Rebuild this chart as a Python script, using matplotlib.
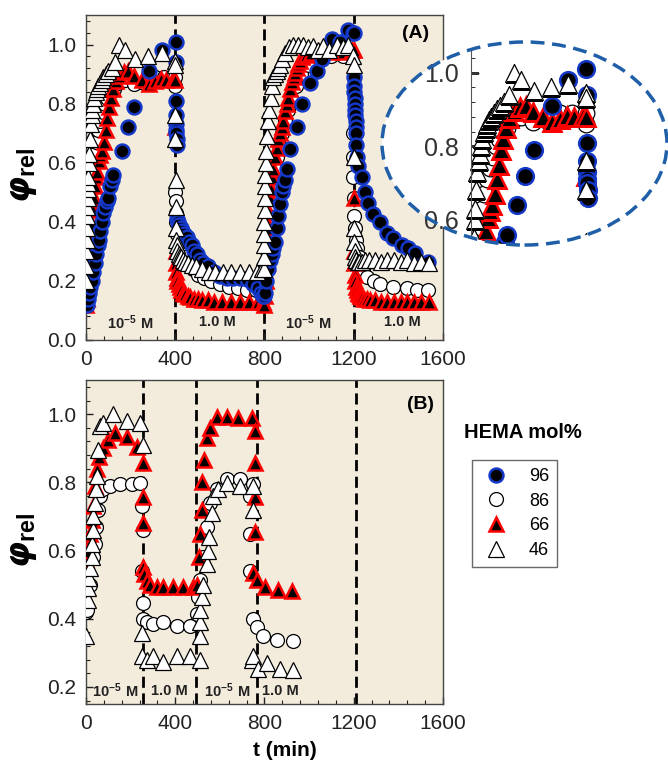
import numpy as np
import matplotlib
matplotlib.use('Agg')
import matplotlib.pyplot as plt
from matplotlib.patches import Ellipse
from matplotlib.lines import Line2D

plt.rcParams['font.family'] = ['Liberation Sans', 'DejaVu Sans']
plt.rcParams['mathtext.fontset'] = 'custom'
plt.rcParams['mathtext.rm'] = 'Liberation Sans:bold'
plt.rcParams['mathtext.bf'] = 'Liberation Sans:bold'
plt.rcParams['mathtext.it'] = 'DejaVu Sans:italic:bold'

# ---------------- panel (A) data: t (min), phi_rel ----------------
a96_t = [0, 4, 8, 12, 18, 25, 32, 40, 46, 52, 58, 63, 70, 78, 85, 92, 100, 108, 116, 123, 160, 187, 217, 283, 339, 402,
         403, 403, 404, 404, 405, 405, 406, 406,
         406, 412, 418, 425, 432, 440, 451, 462, 473, 485, 496, 510, 526, 548, 575, 600, 630, 661, 690, 720, 750, 773, 785, 792,
         797, 802, 808, 817, 825, 832, 840, 847, 855, 862, 870, 877, 885, 892, 900, 914, 944, 967, 1004, 1034, 1056, 1101, 1140, 1176, 1198,
         1200, 1201, 1202, 1203, 1204, 1205, 1206, 1207, 1208, 1209, 1210, 1212, 1216, 1221, 1236, 1250, 1265, 1287, 1317, 1348, 1377,
         1415, 1444, 1475, 1534]
a96_v = [0.13, 0.12, 0.14, 0.16, 0.18, 0.20, 0.23, 0.26, 0.29, 0.32, 0.34, 0.37, 0.40, 0.43, 0.45, 0.47, 0.48, 0.52, 0.54, 0.56, 0.64, 0.72, 0.79, 0.91, 0.98, 1.01,
         0.94, 0.81, 0.76, 0.73, 0.71, 0.70, 0.68, 0.66,
         0.41, 0.40, 0.39, 0.38, 0.37, 0.36, 0.35, 0.33, 0.32, 0.30, 0.29, 0.27, 0.26, 0.25, 0.23, 0.215, 0.21, 0.21, 0.21, 0.205, 0.19, 0.175, 0.16, 0.15,
         0.15, 0.16, 0.20, 0.24, 0.27, 0.29, 0.31, 0.33, 0.38, 0.42, 0.46, 0.50, 0.52, 0.54, 0.58, 0.645, 0.72, 0.80, 0.87, 0.91, 0.95, 1.02, 1.01, 1.05, 1.04,
         1.04, 0.89, 0.86, 0.84, 0.82, 0.80, 0.78, 0.76, 0.74, 0.72, 0.70, 0.66, 0.62, 0.59, 0.55, 0.50, 0.465, 0.425, 0.40, 0.363, 0.346,
         0.32, 0.31, 0.295, 0.265]

a86_t = [0, 5, 10, 15, 20, 25, 30, 38, 45, 55, 65, 75, 85, 95, 110, 125, 145, 175, 215, 260, 310, 350, 400,
         400, 401, 402, 403, 405, 410, 420, 430, 445, 460, 480, 500, 530, 560, 600, 640, 680, 720, 760, 790,
         800, 805, 810, 815, 822, 830, 838, 847, 856, 866, 878, 890, 905, 920, 940, 965, 1000, 1050, 1100, 1150, 1190,
         1195, 1196, 1198, 1200, 1203, 1206, 1210, 1215, 1222, 1230, 1240, 1258, 1290, 1318, 1377, 1437, 1482, 1533]
a86_v = [0.20, 0.24, 0.30, 0.38, 0.46, 0.53, 0.58, 0.63, 0.67, 0.71, 0.74, 0.77, 0.80, 0.82, 0.84, 0.85, 0.87, 0.88, 0.866, 0.87, 0.89, 0.89, 0.89,
         0.86, 0.50, 0.47, 0.43, 0.40, 0.36, 0.33, 0.30, 0.28, 0.26, 0.24, 0.22, 0.21, 0.20, 0.19, 0.18, 0.175, 0.17, 0.17, 0.16,
         0.18, 0.24, 0.30, 0.36, 0.42, 0.48, 0.53, 0.58, 0.62, 0.66, 0.70, 0.74, 0.78, 0.82, 0.86, 0.90, 0.93, 0.95, 0.96, 0.96, 0.96,
         0.70, 0.62, 0.55, 0.48, 0.42, 0.38, 0.34, 0.31, 0.28, 0.26, 0.24, 0.214, 0.20, 0.19, 0.18, 0.175, 0.17, 0.17]

a66_t = [0, 3, 6, 9, 12, 16, 20, 25, 30, 35, 40, 45, 51, 58, 65, 73, 81, 88, 96, 103, 110, 120, 133, 150, 170, 190, 215, 250, 282, 310, 335, 360, 390, 400,
         401, 402, 403, 404, 406, 410, 415, 420, 428, 436, 445, 455, 468, 482, 500, 520, 545, 575, 610, 650, 690, 730, 770, 795,
         800, 803, 806, 810, 814, 818, 822, 826, 830, 835, 840, 848, 855, 862, 870, 877, 884, 892, 900, 907, 915, 922, 930, 937, 944, 951, 960, 967,
         985, 1010, 1050, 1100, 1150, 1190, 1200,
         1201, 1202, 1203, 1205, 1207, 1210, 1214, 1218, 1223, 1230, 1238, 1248, 1260, 1275, 1295, 1320, 1350, 1380, 1410, 1440, 1470, 1500, 1535]
a66_v = [0.12, 0.14, 0.17, 0.20, 0.24, 0.29, 0.34, 0.39, 0.44, 0.48, 0.52, 0.55, 0.57, 0.605, 0.625, 0.64, 0.67, 0.71, 0.75, 0.79, 0.82, 0.85, 0.877, 0.895, 0.906, 0.91, 0.894, 0.88, 0.866, 0.875, 0.883, 0.88, 0.883, 0.88,
         0.72, 0.30, 0.26, 0.23, 0.21, 0.20, 0.19, 0.18, 0.17, 0.16, 0.155, 0.15, 0.145, 0.14, 0.14, 0.135, 0.135, 0.13, 0.13, 0.13, 0.13, 0.13, 0.13, 0.13,
         0.12, 0.15, 0.20, 0.26, 0.32, 0.38, 0.43, 0.48, 0.51, 0.55, 0.58, 0.62, 0.65, 0.68, 0.70, 0.72, 0.74, 0.775, 0.80, 0.82, 0.85, 0.872, 0.89, 0.905, 0.92, 0.934, 0.945, 0.957,
         0.965, 0.97, 0.97, 0.975, 0.975, 0.98, 0.98,
         0.48, 0.30, 0.26, 0.22, 0.20, 0.18, 0.17, 0.16, 0.155, 0.15, 0.145, 0.14, 0.14, 0.135, 0.135, 0.13, 0.13, 0.13, 0.13, 0.13, 0.13, 0.13, 0.13]

a46_t = [0, 1, 2, 3, 4, 5, 6, 7, 8, 9, 10, 12, 14, 17, 21, 25, 29, 33, 38, 44, 50, 56, 63, 70, 78, 88, 100, 115, 130, 149, 175, 220, 279, 339, 399,
         400, 401, 401, 402, 402, 403, 404, 406, 410, 415, 420, 428, 436, 445, 458, 475, 495, 520, 550, 580, 615, 650, 690, 730, 765, 790,
         797, 798, 799, 800, 800, 801, 801, 802, 803, 805, 808, 812, 817, 822, 828, 834, 840, 847, 855, 862, 870, 880, 892, 910, 929, 950, 973, 995,
         1017, 1040, 1062, 1090, 1124, 1150, 1176, 1195, 1200,
         1201, 1202, 1203, 1204, 1206, 1208, 1212, 1218, 1225, 1235, 1250, 1270, 1295, 1320, 1350, 1380, 1410, 1440, 1470, 1500, 1535]
a46_v = [0.20, 0.25, 0.30, 0.34, 0.38, 0.42, 0.45, 0.48, 0.51, 0.53, 0.55, 0.60, 0.63, 0.68, 0.73, 0.76, 0.78, 0.80, 0.82, 0.84, 0.85, 0.86, 0.87, 0.88, 0.89, 0.90, 0.91, 0.92, 0.94, 1.00, 0.98, 0.95, 0.96, 0.97, 0.945,
         0.93, 0.76, 0.68, 0.54, 0.45, 0.38, 0.34, 0.32, 0.30, 0.29, 0.285, 0.28, 0.27, 0.265, 0.26, 0.255, 0.25, 0.24, 0.23, 0.23, 0.23, 0.23, 0.23, 0.23, 0.23, 0.24,
         0.24, 0.28, 0.32, 0.36, 0.40, 0.44, 0.48, 0.52, 0.56, 0.60, 0.64, 0.69, 0.74, 0.78, 0.82, 0.86, 0.89, 0.90, 0.91, 0.92, 0.93, 0.95, 0.97, 0.99, 1.00, 1.00, 1.00, 0.99,
         0.995, 0.98, 0.995, 0.98, 1.00, 0.99, 1.00, 0.96, 0.93,
         0.62, 0.38, 0.33, 0.30, 0.28, 0.27, 0.27, 0.265, 0.265, 0.265, 0.27, 0.27, 0.27, 0.265, 0.27, 0.27, 0.265, 0.27, 0.26, 0.265, 0.26]

# ---------------- panel (B) data ----------------
b96_t = []
b96_v = []

b86_t = [0, 6, 18, 33, 40, 45, 55, 63, 78, 108, 153, 205, 242, 250, 254, 250, 254, 257, 272, 302, 346, 406, 466,
         496, 503, 511, 526, 541, 556, 586, 631, 691, 750, 735, 735, 735, 750, 765, 795, 855, 929]
b86_v = [0.42, 0.425, 0.50, 0.58, 0.62, 0.67, 0.72, 0.76, 0.78, 0.79, 0.795, 0.795, 0.797, 0.73, 0.66, 0.54, 0.445, 0.40, 0.39, 0.386, 0.39, 0.38, 0.38,
         0.415, 0.465, 0.513, 0.58, 0.67, 0.74, 0.78, 0.81, 0.81, 0.795, 0.76, 0.65, 0.54, 0.40, 0.375, 0.35, 0.337, 0.335]

b66_t = [0, 6, 18, 25, 30, 40, 48, 60, 78, 100, 130, 182, 227, 257, 257, 257, 257, 262, 272, 287, 317, 346, 391, 436, 481,
         496, 507, 511, 518, 518, 529, 541, 556, 586, 631, 683, 743, 758, 758, 758, 758, 750, 765, 802, 862, 922]
b66_v = [0.572, 0.60, 0.65, 0.69, 0.73, 0.79, 0.84, 0.875, 0.90, 0.925, 0.944, 0.934, 0.905, 0.856, 0.758, 0.68, 0.553, 0.53, 0.51, 0.50, 0.494, 0.494, 0.494, 0.494, 0.494,
         0.50, 0.58, 0.65, 0.72, 0.80, 0.866, 0.93, 0.96, 0.993, 0.993, 0.988, 0.988, 0.95, 0.856, 0.758, 0.655, 0.533, 0.513, 0.494, 0.484, 0.48]

b46_t = [0, 10, 10, 15, 18, 25, 25, 33, 33, 40, 43, 48, 55, 63, 78, 123, 182, 242, 257, 250, 250, 272, 302, 346, 406, 466,
         511, 511, 511, 511, 518, 526, 541, 548, 553, 563, 571, 593, 631, 691, 750, 750, 745, 750, 773, 810, 870, 929]
b46_v = [0.35, 0.455, 0.49, 0.52, 0.55, 0.58, 0.62, 0.66, 0.70, 0.74, 0.78, 0.82, 0.895, 0.964, 0.974, 1.00, 0.98, 0.974, 0.91, 0.357, 0.29, 0.28, 0.29, 0.274, 0.29, 0.29,
         0.28, 0.35, 0.39, 0.425, 0.465, 0.50, 0.56, 0.60, 0.64, 0.71, 0.76, 0.78, 0.797, 0.79, 0.79, 0.72, 0.28, 0.29, 0.254, 0.27, 0.254, 0.25]

a_lines = [400, 800, 1200]
b_lines = [255, 495, 765, 1208]
a_regions = [(197, r'$\mathbf{10^{-5}\ M}$'), (587, '1.0 M'), (997, r'$\mathbf{10^{-5}\ M}$'), (1417, '1.0 M')]
b_regions = [(130, r'$\mathbf{10^{-5}\ M}$'), (373, '1.0 M'), (632, r'$\mathbf{10^{-5}\ M}$'), (870, '1.0 M')]
legend_labels = ['96', '86', '66', '46']

bg = '#f3ebdc'
styles = {
    '96': dict(marker='o', ms=10, mfc='black', mec='#1438c8', mew=1.8),
    '86': dict(marker='o', ms=10, mfc='white', mec='black', mew=0.9),
    '66': dict(marker='^', ms=10.5, mfc='black', mec='#ff0000', mew=1.8),
    '46': dict(marker='^', ms=11, mfc='white', mec='black', mew=0.9),
}
order = ['86', '66', '96', '46']


def style_axes(ax):
    ax.set_facecolor(bg)
    for s in ax.spines.values():
        s.set_color('#444444')
        s.set_linewidth(1.0)
    ax.xaxis.set_major_locator(plt.MultipleLocator(400))
    ax.xaxis.set_minor_locator(plt.MultipleLocator(80))
    ax.yaxis.set_major_locator(plt.MultipleLocator(0.2))
    ax.yaxis.set_minor_locator(plt.MultipleLocator(0.04))
    ax.tick_params(which='both', direction='in', labelsize=15, colors='#222222')
    ax.tick_params(which='major', length=5, width=1, pad=7)
    ax.tick_params(which='minor', length=3, width=0.8)
    ax.set_xlim(0, 1600)


fig = plt.figure(figsize=(6.68, 7.65), dpi=100)
axA = fig.add_axes([0.1287, 0.5556, 0.5345, 0.4248])
axB = fig.add_axes([0.1287, 0.0797, 0.5345, 0.4235])

dataA = {'96': (a96_t, a96_v), '86': (a86_t, a86_v), '66': (a66_t, a66_v), '46': (a46_t, a46_v)}
dataB = {'96': (b96_t, b96_v), '86': (b86_t, b86_v), '66': (b66_t, b66_v), '46': (b46_t, b46_v)}

for ax, data, lines, regions, ylim, ylab_y in [(axA, dataA, a_lines, a_regions, (0, 1.1), 0.06),
                                               (axB, dataB, b_lines, b_regions, (0.15, 1.1), 0.188)]:
    style_axes(ax)
    ax.set_ylim(*ylim)
    for x in lines:
        ax.axvline(x, color='black', lw=2, dashes=(4, 2), zorder=1)
    for k in order:
        t, v = data[k]
        if len(t):
            ax.plot(t, v, ls='none', zorder=3, **styles[k])
    for x, s in regions:
        ax.text(x, ylab_y, s, ha='center', va='center', fontsize=10.5, fontweight='bold', color='#222222', zorder=4)

axB.set_yticks([0.2, 0.4, 0.6, 0.8, 1.0])
axA.text(1479, 1.036, '(A)', ha='center', va='center', fontsize=14, fontweight='bold')
axB.text(1497, 1.029, '(B)', ha='center', va='center', fontsize=14, fontweight='bold')

fig.text(0.035, 1 - 175 / 765, r'$\varphi_{\mathrm{rel}}$', rotation=90, ha='center', va='center', fontsize=24)
fig.text(0.035, 1 - 540 / 765, r'$\varphi_{\mathrm{rel}}$', rotation=90, ha='center', va='center', fontsize=24)
fig.text(0.4266, 1 - 750 / 765, 't (min)', ha='center', va='center', fontsize=15, fontweight='bold')

# ---------------- zoomed inset inside dashed ellipse ----------------
ell_center = (0.7852, 0.8124)
ell_w, ell_h = 0.4266, 0.2654
fill = Ellipse(ell_center, ell_w, ell_h, transform=fig.transFigure, facecolor='white', edgecolor='none', zorder=1)
fig.add_artist(fill)
clip = Ellipse(ell_center, ell_w, ell_h, transform=fig.transFigure)

axI = fig.add_axes([0.7058, 0.6797, 0.2927, 0.2654], zorder=2)
axI.patch.set_visible(False)
axI.set_xlim(0, 684)
axI.set_ylim(0.532, 1.083)
for k in order:
    t, v = dataA[k]
    st = dict(styles[k])
    st['ms'] = st['ms'] * 1.2
    ln, = axI.plot(t, v, ls='none', **st)
    ln.set_clip_path(clip)
for side in ['top', 'right', 'bottom']:
    axI.spines[side].set_visible(False)
axI.spines['left'].set_color('#555555')
axI.spines['left'].set_clip_path(clip)
axI.set_xticks([])
axI.set_yticks([0.6, 0.8, 1.0])
axI.set_yticks(np.arange(0.56, 1.081, 0.04), minor=True)
axI.set_yticklabels(['0.6', '0.8', '1.0'])
axI.tick_params(axis='y', which='both', direction='in', labelsize=18, colors='#333333', pad=9)
axI.tick_params(axis='y', which='major', length=6)
axI.tick_params(axis='y', which='minor', length=3)
for tk in axI.yaxis.get_major_ticks() + axI.yaxis.get_minor_ticks():
    tk.tick1line.set_clip_path(clip)
    tk.label1.set_clip_path(clip)

outline = Ellipse(ell_center, ell_w, ell_h, transform=fig.transFigure, fill=False,
                  edgecolor='#1f5fa8', lw=2.5, linestyle=(0, (4, 2.2)), zorder=3)
fig.add_artist(outline)

# ---------------- legend ----------------
handles = [Line2D([], [], ls='none', **styles[k]) for k in legend_labels]
leg = fig.legend(handles, legend_labels, loc='upper left', bbox_to_anchor=(0.7066, 0.3987),
                 fontsize=13, frameon=True, fancybox=False, edgecolor='#444444',
                 handlelength=1.8, handletextpad=0.9, borderpad=0.45, labelspacing=0.42,
                 borderaxespad=0)
leg.get_frame().set_linewidth(1.0)
fig.text(0.7822, 0.434, 'HEMA mol%', ha='center', va='center', fontsize=14.5, fontweight='bold')

fig.savefig('out.png', dpi=100)
